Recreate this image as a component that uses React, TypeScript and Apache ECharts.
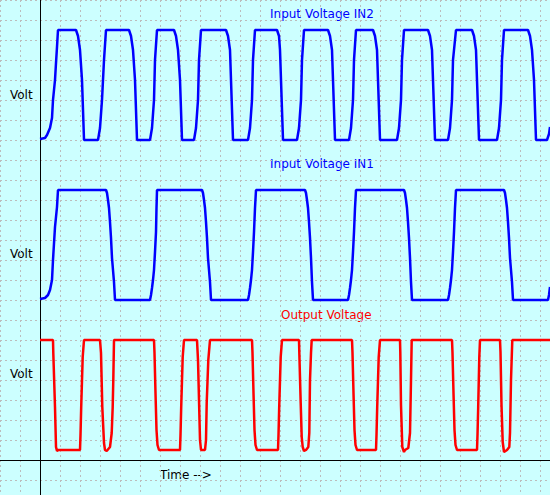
import React, { useEffect, useRef } from "react";
import * as echarts from "echarts";

// time (t) vs level (v) samples, in chart units
const in2Points: number[][] = [
  [0, 321], [5, 322], [7, 325], [10, 332], [12, 342], [13, 360], [15, 380], [16, 397], [17, 413], [18, 430],
  [36, 430], [38, 424], [40, 410], [42, 380], [43, 350], [44, 320],
  [58, 320], [60, 332], [62, 360], [64, 400], [66, 430],
  [89, 430], [91, 424], [93, 410], [95, 380], [96, 350], [97, 320],
  [110, 320], [112, 332], [114, 360], [115, 400], [117, 430],
  [134, 430], [136, 424], [138, 410], [140, 380], [141, 350], [142, 320],
  [154, 320], [156, 332], [158, 360], [159, 400], [161, 430],
  [186, 430], [188, 424], [190, 410], [191, 380], [192, 350], [193, 320],
  [208, 320], [210, 332], [212, 360], [213, 400], [215, 430],
  [237, 430], [239, 424], [240, 410], [241, 380], [242, 350], [243, 320],
  [257, 320], [259, 332], [261, 360], [262, 400], [264, 430],
  [288, 430], [290, 424], [292, 410], [293, 380], [294, 350], [295, 320],
  [309, 320], [311, 332], [313, 360], [314, 400], [316, 430],
  [333, 430], [335, 424], [337, 410], [338, 380], [339, 350], [340, 320],
  [357, 320], [359, 332], [361, 360], [362, 400], [364, 430],
  [388, 430], [390, 424], [392, 410], [393, 380], [394, 350], [395, 320],
  [408, 320], [410, 332], [412, 360], [413, 400], [416, 430],
  [432, 430], [434, 424], [436, 410], [437, 380], [438, 350], [439, 320],
  [457, 320], [459, 332], [461, 360], [462, 400], [464, 430],
  [488, 430], [490, 424], [492, 410], [494, 380], [495, 350], [496, 320],
  [507, 320], [509, 326], [510, 333],
];

const in1Points: number[][] = [
  [0, 161], [5, 162], [8, 165], [10, 170], [12, 180], [13, 200], [15, 233], [17, 253], [18, 270],
  [66, 270], [67, 267], [68, 260], [69, 252], [70, 238], [71, 222], [72, 202], [74, 178], [75, 160],
  [110, 160], [111, 165], [112, 172], [113, 180], [114, 190], [115, 208], [116, 228], [116.5, 252], [117, 270],
  [162, 270], [163, 267], [164, 260], [165, 252], [166, 238], [167, 222], [168, 202], [170, 178], [171, 160],
  [208, 160], [209, 165], [210, 172], [211, 180], [212, 190], [213, 208], [214, 228], [215, 252], [216, 270],
  [265, 270], [266, 267], [267, 260], [268, 252], [269, 238], [270, 222], [271, 202], [272, 178], [273, 160],
  [308, 160], [309, 165], [310, 172], [311, 180], [312, 190], [313, 208], [314, 228], [315, 252], [316, 270],
  [364, 270], [365, 267], [366, 260], [367, 252], [368, 238], [369, 222], [370, 202], [371, 178], [372, 160],
  [408, 160], [409, 165], [410, 172], [411, 180], [412, 190], [413, 208], [414, 228], [415, 252], [416, 270],
  [464, 270], [465, 267], [466, 260], [467, 252], [468, 238], [469, 222], [470, 202], [472, 178], [473, 160],
  [508, 160], [509, 165], [510, 173],
];

const outPoints: number[][] = [
  [0, 120], [13, 120], [13.3, 107], [15, 53], [16, 13], [17, 9], [18, 10],
  [40, 10], [40.5, 25], [41.2, 53], [42.7, 103], [44, 120],
  [60, 120], [61, 107], [62.3, 53], [64, 17], [65, 10], [66.7, 9], [70, 13], [71.7, 27], [72.7, 53], [73.3, 80], [74, 120],
  [114, 120], [114.5, 107], [115.5, 67], [116.5, 30], [117.5, 15], [119, 10],
  [140, 10], [140.5, 25], [141.2, 53], [142.7, 103], [144, 120],
  [157, 120], [158, 100], [159, 60], [160, 20], [161, 10], [165, 10], [166, 20], [166.7, 57], [168.3, 100], [170, 120],
  [212, 120], [212.5, 107], [213.5, 67], [214.5, 30], [215.5, 15], [217, 10],
  [238, 10], [238.5, 25], [239.2, 53], [240.7, 103], [242, 120],
  [259, 120], [259.3, 108], [260.7, 57], [261.7, 23], [262.7, 13], [264, 9], [266, 10], [268.3, 13], [269.3, 27], [270, 80], [271, 107], [271.7, 120],
  [312, 120], [312.5, 107], [313.5, 67], [314.5, 30], [315.5, 15], [317, 10],
  [336, 10], [336.5, 25], [337.2, 53], [338.7, 103], [340, 120],
  [360, 120], [360.3, 108], [361, 55], [362.3, 13], [364, 8], [365, 10], [368.3, 12], [370, 27], [371, 80], [371.7, 120],
  [412, 120], [412.5, 107], [413.5, 67], [414.5, 30], [415.5, 15], [417, 10],
  [437, 10], [437.5, 25], [438.2, 53], [439.3, 103], [440, 120],
  [460, 120], [460.5, 108], [461.5, 55], [462.7, 18], [464, 8], [467, 10], [469.3, 13], [470, 27], [471, 80], [472.3, 120],
  [510, 120],
];

const seriesNames = ["Input Voltage IN2", "Input Voltage IN1", "Output Voltage"];
const yLabel = "Volt";
const xLabel = "Time -->";

export default function App() {
  const ref = useRef<HTMLDivElement>(null);
  useEffect(() => {
    if (!ref.current) return;
    const chart = echarts.init(ref.current, null, { renderer: "svg" });
    const font = "DejaVu Sans";
    const grid = { color: "#bcbcbc", type: [2, 3] as any, width: 1 };
    chart.setOption({
      animation: false,
      backgroundColor: "#ccffff",
      grid: { left: 0, top: 0, width: 550, height: 500, outerBoundsMode: "none", containLabel: false },
      xAxis: {
        type: "value",
        min: -40,
        max: 510,
        interval: 20,
        axisLine: { show: true, onZero: true, lineStyle: { color: "#000", width: 1 } },
        axisTick: { show: false },
        axisLabel: { show: false },
        splitLine: { show: true, lineStyle: grid },
      },
      yAxis: {
        type: "value",
        min: -40,
        max: 460,
        interval: 20,
        axisLine: { show: true, onZero: true, lineStyle: { color: "#000", width: 1 } },
        axisTick: { show: false },
        axisLabel: { show: false },
        splitLine: { show: true, lineStyle: grid },
      },
      series: [
        { name: seriesNames[0], type: "line", data: in2Points, showSymbol: false, lineStyle: { color: "#0000ff", width: 2.5 }, itemStyle: { color: "#0000ff" } },
        { name: seriesNames[1], type: "line", data: in1Points, showSymbol: false, lineStyle: { color: "#0000ff", width: 2.5 }, itemStyle: { color: "#0000ff" } },
        { name: seriesNames[2], type: "line", data: outPoints, showSymbol: false, lineStyle: { color: "#ff0000", width: 2.5 }, itemStyle: { color: "#ff0000" } },
      ],
      graphic: [
        { type: "text", left: 270, top: 8, style: { text: seriesNames[0], fill: "#0000ff", font: `12px '${font}'` } },
        { type: "text", left: 270, top: 158, style: { text: seriesNames[1], fill: "#0000ff", font: `12px '${font}'` } },
        { type: "text", left: 281, top: 309, style: { text: seriesNames[2], fill: "#ff0000", font: `12px '${font}'` } },
        { type: "text", left: 10, top: 89, style: { text: yLabel, fill: "#000", font: `12px '${font}'` } },
        { type: "text", left: 10, top: 248, style: { text: yLabel, fill: "#000", font: `12px '${font}'` } },
        { type: "text", left: 10, top: 368, style: { text: yLabel, fill: "#000", font: `12px '${font}'` } },
        { type: "text", left: 160, top: 469, style: { text: xLabel, fill: "#000", font: `12px '${font}'` } },
      ],
    });
    return () => chart.dispose();
  }, []);
  return <div ref={ref} style={{ position: "fixed", left: 0, top: 0, width: 550, height: 495 }} />;
}
